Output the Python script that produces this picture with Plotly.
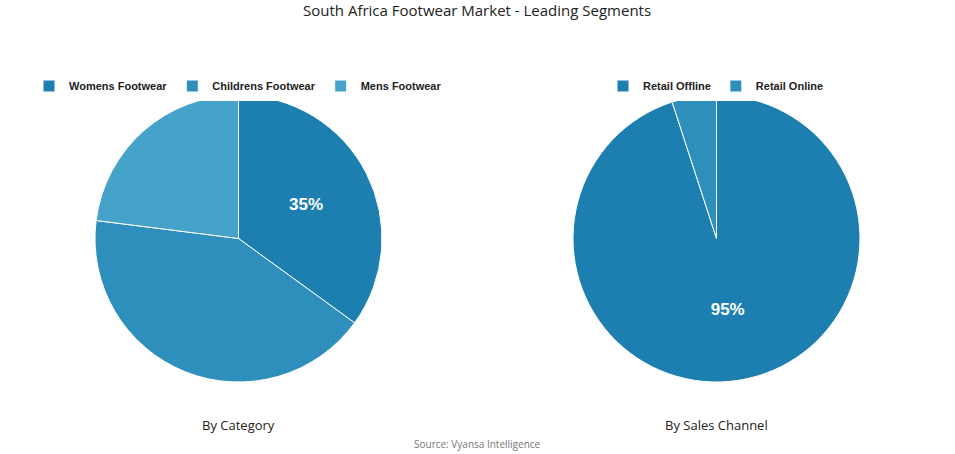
import plotly.graph_objects as go

cat_labels = ["Womens Footwear", "Childrens Footwear", "Mens Footwear"]
cat_values = [35, 42, 23]
cat_text = ["35%", "", ""]
ch_labels = ["Retail Offline", "Retail Online"]
ch_values = [95, 5]
ch_text = ["95%", ""]
colors = ["#1c7fb0", "#2e8fbc", "#45a2c8"]

W, H = 955, 454

def px(x):
    return x / W

def py(y):
    return 1 - y / H

fig = go.Figure()
tf = dict(color="white", size=17, family="Liberation Sans", weight="bold")
fig.add_trace(go.Pie(labels=cat_labels, values=cat_values, text=cat_text, textinfo="text",
    sort=False, direction="clockwise", rotation=0,
    marker=dict(colors=colors, line=dict(color="white", width=1)),
    textfont=tf, textposition="inside",
    domain=dict(x=[px(95), px(382)], y=[py(382), py(95)]), legend="legend", hoverinfo="label+percent"))
fig.add_trace(go.Pie(labels=ch_labels, values=ch_values, text=ch_text, textinfo="text",
    sort=False, direction="clockwise", rotation=0,
    marker=dict(colors=colors[:2], line=dict(color="white", width=1)),
    textfont=tf, textposition="inside",
    domain=dict(x=[px(573), px(860)], y=[py(382), py(95)]), legend="legend2", hoverinfo="label+percent"))

lfont = dict(family="Liberation Sans", size=11, color="#222", weight="bold")
fig.update_layout(
    width=W, height=H, autosize=False,
    margin=dict(l=0, r=0, t=0, b=0, autoexpand=False),
    paper_bgcolor="white", plot_bgcolor="white",
    legend=dict(orientation="h", x=px(238), xanchor="center", y=py(86), yanchor="middle",
                font=lfont, itemwidth=30),
    legend2=dict(orientation="h", x=px(716), xanchor="center", y=py(86), yanchor="middle",
                 font=lfont, itemwidth=30),
    annotations=[
        dict(text="South Africa Footwear Market - Leading Segments", x=px(477), y=py(10),
             xref="paper", yref="paper", showarrow=False, xanchor="center", yanchor="middle",
             font=dict(family="Open Sans", size=15, color="#222")),
        dict(text="By Category", x=px(238), y=py(425), xref="paper", yref="paper", showarrow=False,
             xanchor="center", yanchor="middle", font=dict(family="Open Sans", size=13, color="#222")),
        dict(text="By Sales Channel", x=px(716), y=py(425), xref="paper", yref="paper", showarrow=False,
             xanchor="center", yanchor="middle", font=dict(family="Open Sans", size=13, color="#222")),
        dict(text="Source: Vyansa Intelligence", x=px(477), y=py(444), xref="paper", yref="paper",
             showarrow=False, xanchor="center", yanchor="middle",
             font=dict(family="Open Sans", size=10, color="#777")),
    ],
)
fig.write_html("out.html", config={"displayModeBar": False},
               post_script="document.body.style.margin='0';document.body.style.overflow='hidden';")
